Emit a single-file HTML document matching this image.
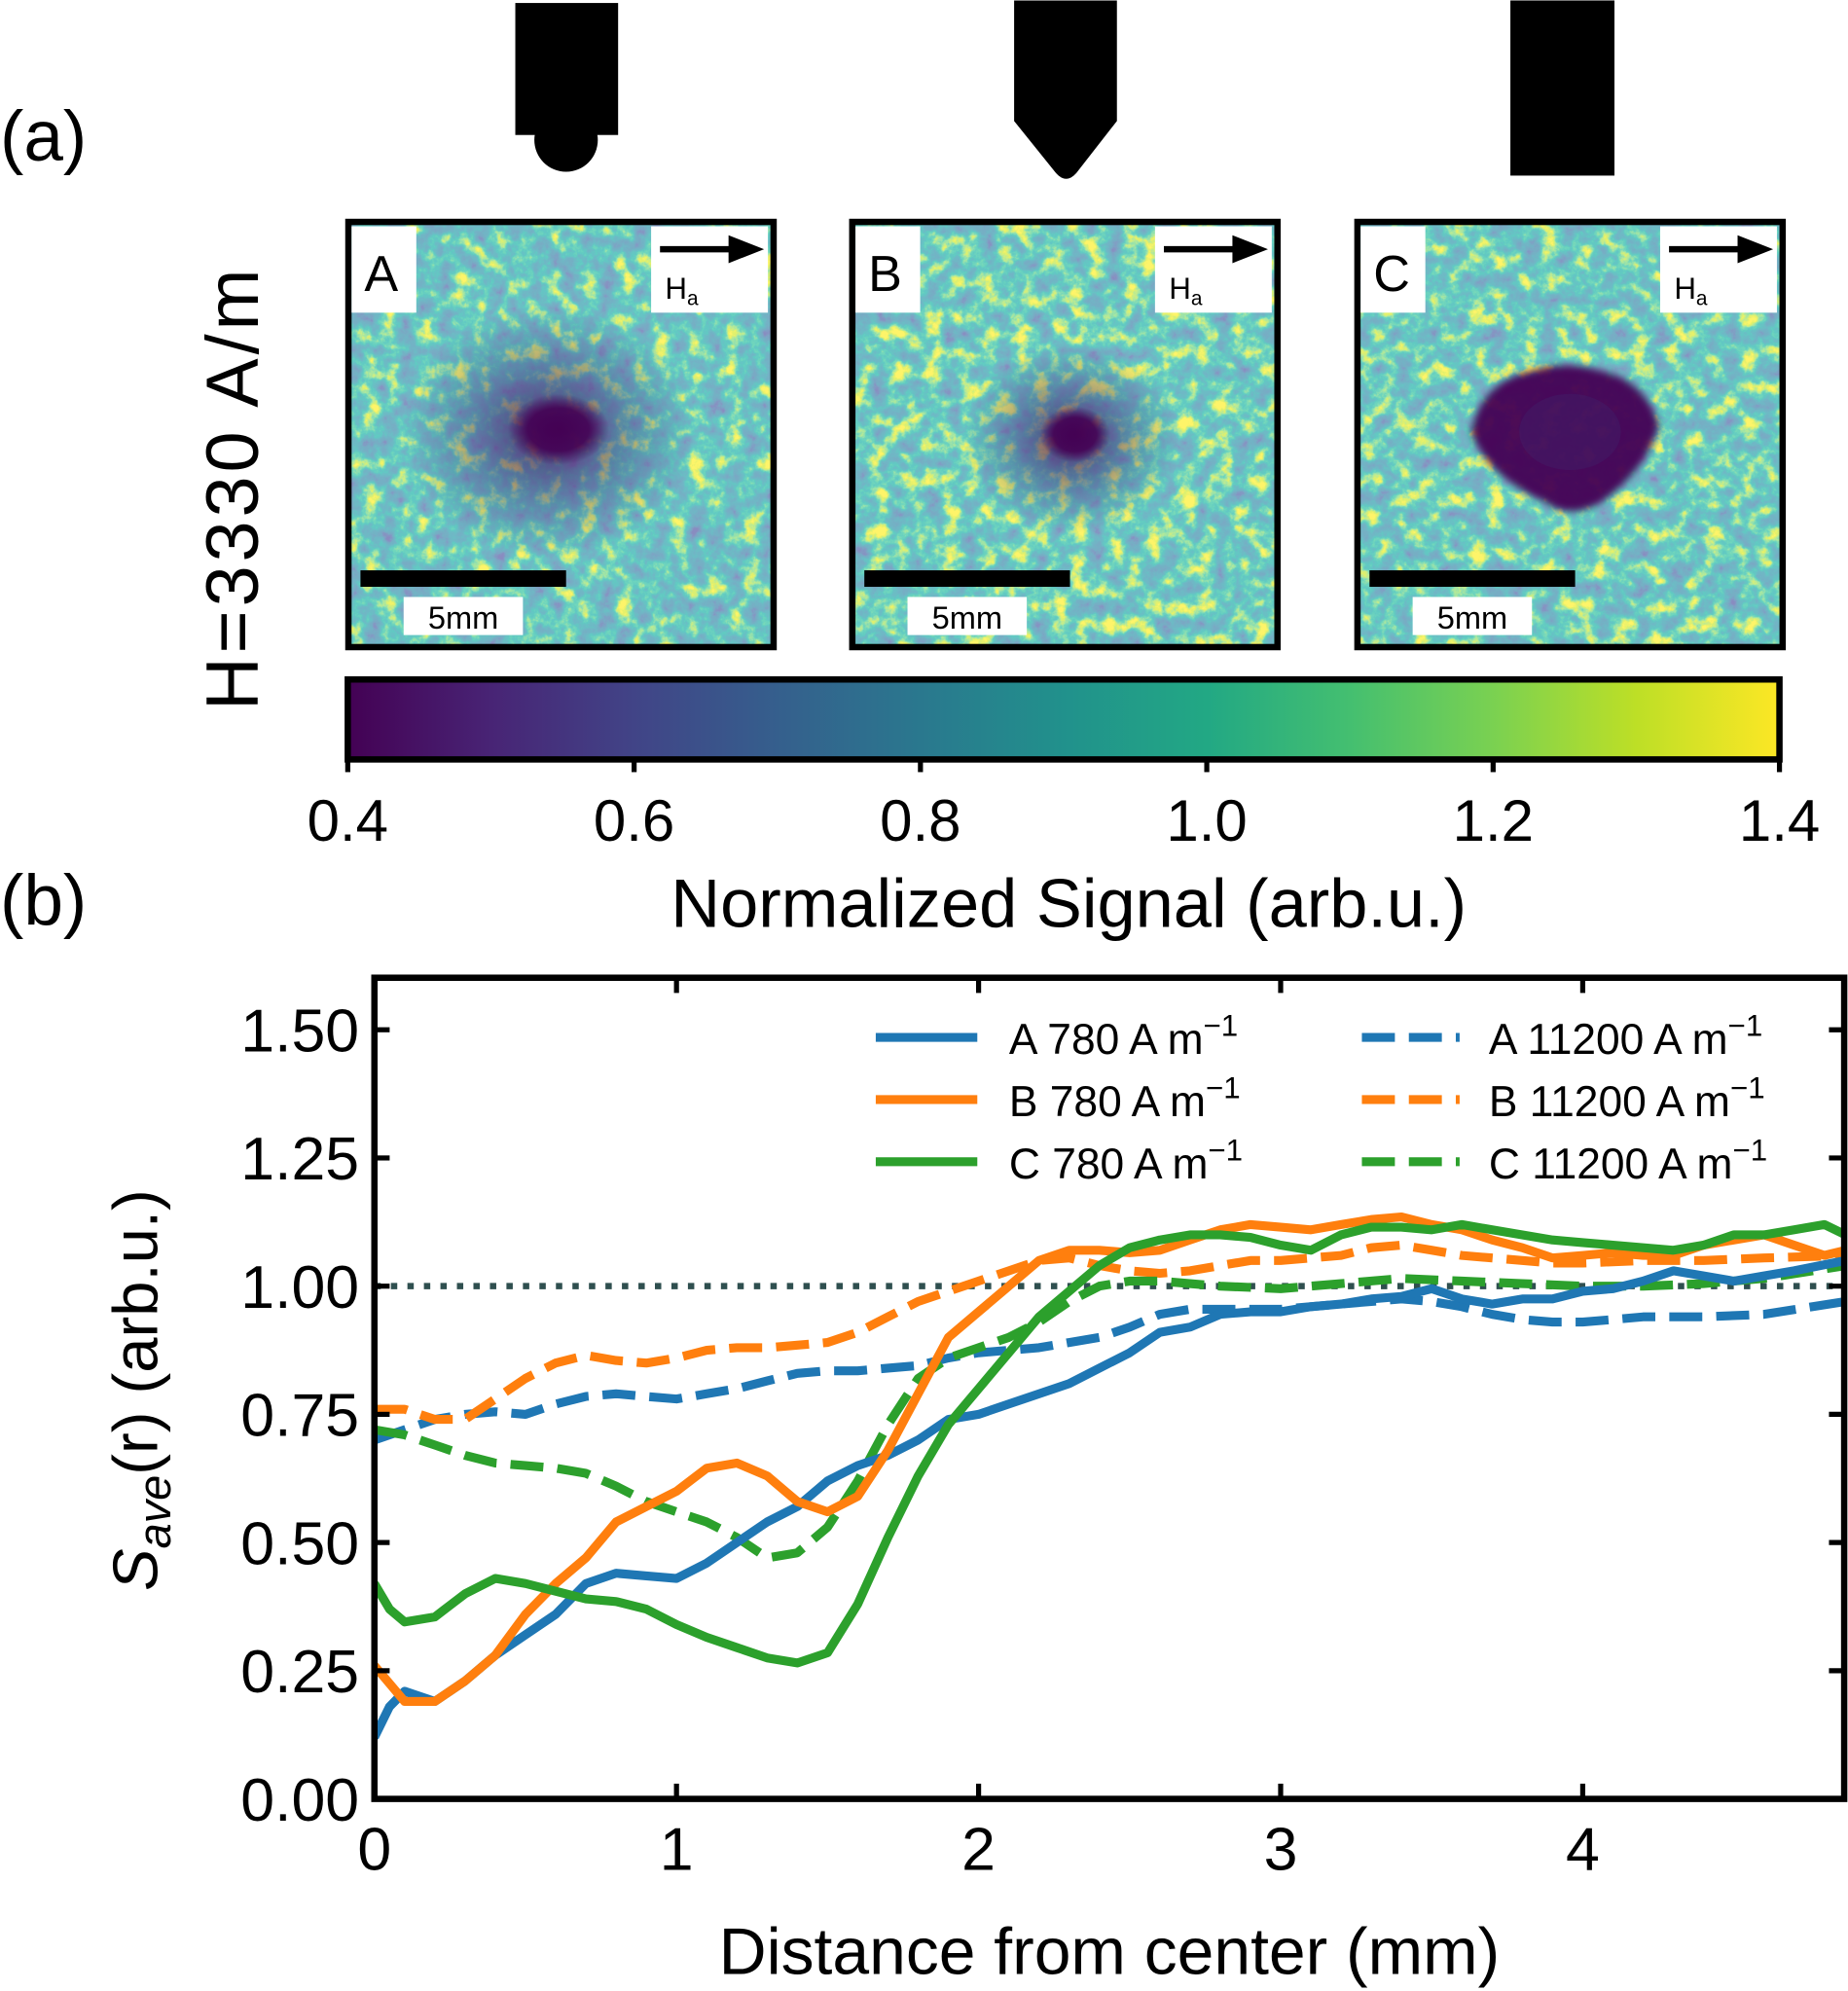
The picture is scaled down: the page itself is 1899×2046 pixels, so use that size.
<!DOCTYPE html>
<html><head><meta charset="utf-8"><style>
html,body{margin:0;padding:0;background:#fff;}
svg{display:block;font-family:"Liberation Sans",sans-serif;}
</style></head><body>
<svg id="s" width="1899" height="2046" viewBox="0 0 1456 1568" xmlns="http://www.w3.org/2000/svg">
<defs>
<linearGradient id="vir" x1="0" x2="1" y1="0" y2="0">
<stop offset="0" stop-color="#440154"/><stop offset="0.1" stop-color="#482475"/><stop offset="0.2" stop-color="#414487"/><stop offset="0.3" stop-color="#355f8d"/><stop offset="0.4" stop-color="#2a788e"/><stop offset="0.5" stop-color="#21918c"/><stop offset="0.6" stop-color="#22a884"/><stop offset="0.7" stop-color="#44bf70"/><stop offset="0.8" stop-color="#7ad151"/><stop offset="0.9" stop-color="#bddf26"/><stop offset="1" stop-color="#fde725"/>
</linearGradient>
<filter id="n1" x="0" y="0" width="1" height="1"><feTurbulence type="fractalNoise" baseFrequency="0.07" numOctaves="5" seed="3"/><feColorMatrix type="matrix" values="1.3 0 0 0 -0.17 1.3 0 0 0 -0.17 1.3 0 0 0 -0.17 0 0 0 0 1"/><feComponentTransfer>
<feFuncR type="table" tableValues="0.253 0.229 0.19 0.172 0.153 0.12 0.17 0.4 0.741 0.993 0.993"/>
<feFuncG type="table" tableValues="0.265 0.322 0.407 0.448 0.496 0.59 0.68 0.8 0.873 0.906 0.906"/>
<feFuncB type="table" tableValues="0.53 0.546 0.556 0.557 0.558 0.544 0.5 0.35 0.15 0.144 0.144"/>
<feFuncA type="table" tableValues="1 1"/></feComponentTransfer></filter>
<filter id="n2" x="0" y="0" width="1" height="1"><feTurbulence type="fractalNoise" baseFrequency="0.07" numOctaves="5" seed="11"/><feColorMatrix type="matrix" values="1.3 0 0 0 -0.12 1.3 0 0 0 -0.12 1.3 0 0 0 -0.12 0 0 0 0 1"/><feComponentTransfer>
<feFuncR type="table" tableValues="0.253 0.229 0.19 0.172 0.153 0.12 0.17 0.4 0.741 0.993 0.993"/>
<feFuncG type="table" tableValues="0.265 0.322 0.407 0.448 0.496 0.59 0.68 0.8 0.873 0.906 0.906"/>
<feFuncB type="table" tableValues="0.53 0.546 0.556 0.557 0.558 0.544 0.5 0.35 0.15 0.144 0.144"/>
<feFuncA type="table" tableValues="1 1"/></feComponentTransfer></filter>
<filter id="n3" x="0" y="0" width="1" height="1"><feTurbulence type="fractalNoise" baseFrequency="0.07" numOctaves="5" seed="27"/><feColorMatrix type="matrix" values="1.3 0 0 0 -0.14 1.3 0 0 0 -0.14 1.3 0 0 0 -0.14 0 0 0 0 1"/><feComponentTransfer>
<feFuncR type="table" tableValues="0.253 0.229 0.19 0.172 0.153 0.12 0.17 0.4 0.741 0.993 0.993"/>
<feFuncG type="table" tableValues="0.265 0.322 0.407 0.448 0.496 0.59 0.68 0.8 0.873 0.906 0.906"/>
<feFuncB type="table" tableValues="0.53 0.546 0.556 0.557 0.558 0.544 0.5 0.35 0.15 0.144 0.144"/>
<feFuncA type="table" tableValues="1 1"/></feComponentTransfer></filter>
<radialGradient id="halo"><stop offset="0" stop-color="#440154" stop-opacity="0.8"/><stop offset="0.5" stop-color="#46327e" stop-opacity="0.45"/><stop offset="1" stop-color="#3b528b" stop-opacity="0"/></radialGradient>
<radialGradient id="core"><stop offset="0" stop-color="#440154" stop-opacity="1"/><stop offset="0.6" stop-color="#440154" stop-opacity="0.9"/><stop offset="1" stop-color="#440154" stop-opacity="0"/></radialGradient>
<filter id="bl"><feGaussianBlur stdDeviation="3"/></filter>
</defs>

<text x="0" y="126" font-size="56">(a)</text>
<text x="0" y="728" font-size="56">(b)</text>

<rect x="406" y="2" width="81" height="104"/>
<circle cx="446" cy="110" r="25"/>
<path d="M799 0 H880 V95 L848 136 Q840 145 832 136 L799 95 Z"/>
<rect x="1190" y="0" width="82" height="138"/>

<g id="panels"></g>

<text transform="translate(203,384) rotate(-90)" font-size="58" text-anchor="middle" letter-spacing="3">H=3330 A/m</text>

<rect x="274" y="535" width="1128" height="63" fill="url(#vir)" stroke="#000" stroke-width="5"/>
<g id="cbt"></g>
<text x="842" y="730" font-size="54" text-anchor="middle">Normalized Signal (arb.u.)</text>

<g id="plot"></g>
</svg>
<script>
const NS="http://www.w3.org/2000/svg";
function el(p,t,a,txt){const e=document.createElementNS(NS,t);for(const k in a)e.setAttribute(k,a[k]);if(txt!==undefined)e.textContent=txt;p.appendChild(e);return e;}
const P=document.getElementById('panels');
const panels=[[272,'A','n1'],[669,'B','n2'],[1067,'C','n3']];
panels.forEach(([x0,L,f],i)=>{
  const g=el(P,'g',{});
  const cp=el(g,'clipPath',{id:'cp'+i});el(cp,'rect',{x:x0+2,y:174,width:335,height:335});
  const gi=el(g,'g',{'clip-path':'url(#cp'+i+')'});
  el(gi,'rect',{x:x0,y:172,width:340,height:340,filter:'url(#'+f+')'});
  if(i==0){el(gi,'ellipse',{cx:x0+160,cy:340,rx:115,ry:100,fill:'url(#halo)'});el(gi,'ellipse',{cx:x0+168,cy:338,rx:40,ry:28,fill:'url(#core)'});}
  if(i==1){el(gi,'ellipse',{cx:x0+175,cy:345,rx:85,ry:75,fill:'url(#halo)'});el(gi,'ellipse',{cx:x0+178,cy:342,rx:28,ry:22,fill:'url(#core)'});}
  if(i==2){el(gi,'path',{d:`M${x0+92} 340 Q${x0+100} 300 ${x0+140} 292 Q${x0+165} 283 ${x0+195} 292 Q${x0+230} 300 ${x0+240} 335 Q${x0+230} 370 ${x0+195} 395 Q${x0+170} 410 ${x0+150} 395 Q${x0+105} 375 ${x0+92} 340 Z`,fill:'#440154',opacity:'0.95',filter:'url(#bl)'});
    el(gi,'ellipse',{cx:x0+170,cy:340,rx:40,ry:30,fill:'#3e2a70',opacity:'0.3'});}
  el(g,'rect',{x:x0+2.5,y:174.5,width:335,height:335,fill:'none',stroke:'#000','stroke-width':5});
  el(g,'rect',{x:x0+5,y:178,width:51,height:68,fill:'#fff'});
  el(g,'text',{x:x0+15,y:229,'font-size':40},L);
  el(g,'rect',{x:x0+241,y:178,width:92,height:68,fill:'#fff'});
  el(g,'line',{x1:x0+248,y1:196,x2:x0+310,y2:196,stroke:'#000','stroke-width':5});
  el(g,'path',{d:`M${x0+302} 185 L${x0+330} 196 L${x0+302} 207 Z`});
  const t=el(g,'text',{x:x0+252,y:235,'font-size':24},'H');
  el(t,'tspan',{dy:5,'font-size':16},'a');
  el(g,'rect',{x:x0+12,y:449,width:162,height:13});
  el(g,'rect',{x:x0+46,y:470,width:94,height:30,fill:'#fff'});
  el(g,'text',{x:x0+93,y:495,'font-size':25,'text-anchor':'middle'},'5mm');
});
const C=document.getElementById('cbt');
[0.4,0.6,0.8,1.0,1.2,1.4].forEach((v,i)=>{const x=274+i*225.6;el(C,'line',{x1:x,y1:598,x2:x,y2:608,stroke:'#000','stroke-width':4});
 el(C,'text',{x:x,y:662,'font-size':46,'text-anchor':'middle'},v.toFixed(1));});
const G=document.getElementById('plot');
const X=v=>295+v*238, Y=v=>1417-v*404;
const cp=el(G,'clipPath',{id:'pc'});el(cp,'rect',{x:295,y:770,width:1158,height:647});
el(G,'line',{x1:295,y1:Y(1),x2:1453,y2:Y(1),stroke:'#2f4f4f','stroke-width':5,'stroke-dasharray':'5 8'});
const data={
aS:[[0,0.12],[0.05,0.18],[0.1,0.21],[0.2,0.19],[0.3,0.23],[0.4,0.28],[0.5,0.32],[0.6,0.36],[0.7,0.42],[0.8,0.44],[0.9,0.435],[1.0,0.43],[1.1,0.46],[1.2,0.5],[1.3,0.54],[1.4,0.57],[1.5,0.62],[1.6,0.65],[1.7,0.67],[1.8,0.7],[1.9,0.74],[2.0,0.75],[2.1,0.77],[2.2,0.79],[2.3,0.81],[2.4,0.84],[2.5,0.87],[2.6,0.91],[2.7,0.92],[2.8,0.945],[2.9,0.95],[3.0,0.95],[3.1,0.96],[3.2,0.965],[3.3,0.975],[3.4,0.98],[3.5,0.995],[3.6,0.975],[3.7,0.965],[3.8,0.975],[3.9,0.975],[4.0,0.99],[4.1,0.995],[4.2,1.01],[4.3,1.03],[4.4,1.02],[4.5,1.01],[4.6,1.02],[4.7,1.03],[4.87,1.05]],
bS:[[0,0.26],[0.1,0.19],[0.2,0.19],[0.3,0.23],[0.4,0.28],[0.5,0.36],[0.6,0.42],[0.7,0.47],[0.8,0.54],[0.9,0.57],[1.0,0.6],[1.1,0.645],[1.2,0.655],[1.3,0.63],[1.4,0.58],[1.5,0.56],[1.6,0.59],[1.7,0.68],[1.8,0.79],[1.9,0.9],[2.0,0.95],[2.1,1.0],[2.2,1.05],[2.3,1.07],[2.4,1.07],[2.5,1.065],[2.6,1.07],[2.7,1.09],[2.8,1.11],[2.9,1.12],[3.0,1.115],[3.1,1.11],[3.2,1.12],[3.3,1.13],[3.4,1.135],[3.5,1.12],[3.6,1.11],[3.7,1.09],[3.8,1.075],[3.9,1.055],[4.0,1.06],[4.1,1.065],[4.2,1.06],[4.3,1.06],[4.4,1.08],[4.5,1.09],[4.6,1.1],[4.7,1.08],[4.8,1.06],[4.87,1.07]],
cS:[[0,0.42],[0.05,0.37],[0.1,0.345],[0.2,0.355],[0.3,0.4],[0.4,0.43],[0.5,0.42],[0.6,0.405],[0.7,0.39],[0.8,0.385],[0.9,0.37],[1.0,0.34],[1.1,0.315],[1.2,0.295],[1.3,0.275],[1.4,0.265],[1.5,0.285],[1.6,0.38],[1.7,0.51],[1.8,0.63],[1.9,0.73],[2.0,0.8],[2.1,0.87],[2.2,0.94],[2.3,0.99],[2.4,1.04],[2.5,1.075],[2.6,1.09],[2.7,1.1],[2.8,1.1],[2.9,1.095],[3.0,1.08],[3.1,1.07],[3.2,1.1],[3.3,1.115],[3.4,1.115],[3.5,1.11],[3.6,1.12],[3.7,1.11],[3.8,1.1],[3.9,1.09],[4.0,1.085],[4.1,1.08],[4.2,1.075],[4.3,1.07],[4.4,1.08],[4.5,1.1],[4.6,1.1],[4.7,1.11],[4.8,1.12],[4.87,1.1]],
aD:[[0,0.7],[0.1,0.72],[0.2,0.74],[0.3,0.75],[0.4,0.755],[0.5,0.75],[0.6,0.77],[0.7,0.785],[0.8,0.79],[0.9,0.785],[1.0,0.78],[1.1,0.79],[1.2,0.8],[1.3,0.815],[1.4,0.83],[1.5,0.835],[1.6,0.835],[1.7,0.84],[1.8,0.845],[1.9,0.86],[2.0,0.87],[2.1,0.875],[2.2,0.88],[2.3,0.89],[2.4,0.9],[2.5,0.92],[2.6,0.945],[2.7,0.955],[2.8,0.955],[3.0,0.955],[3.2,0.965],[3.4,0.975],[3.5,0.97],[3.6,0.96],[3.7,0.945],[3.8,0.935],[3.9,0.93],[4.0,0.93],[4.1,0.935],[4.2,0.94],[4.4,0.94],[4.6,0.945],[4.87,0.97]],
bD:[[0,0.76],[0.1,0.76],[0.2,0.74],[0.3,0.74],[0.4,0.78],[0.5,0.82],[0.6,0.85],[0.7,0.865],[0.8,0.855],[0.9,0.85],[1.0,0.86],[1.1,0.875],[1.2,0.88],[1.3,0.88],[1.4,0.885],[1.5,0.89],[1.6,0.91],[1.7,0.94],[1.8,0.97],[1.9,0.99],[2.0,1.01],[2.1,1.03],[2.2,1.05],[2.3,1.055],[2.4,1.04],[2.5,1.03],[2.6,1.025],[2.7,1.03],[2.8,1.04],[2.9,1.05],[3.0,1.05],[3.1,1.055],[3.2,1.06],[3.3,1.075],[3.4,1.08],[3.5,1.07],[3.6,1.06],[3.7,1.055],[3.8,1.05],[3.9,1.045],[4.0,1.045],[4.2,1.05],[4.4,1.05],[4.6,1.055],[4.87,1.06]],
cD:[[0,0.72],[0.1,0.71],[0.2,0.69],[0.3,0.67],[0.4,0.655],[0.5,0.65],[0.6,0.645],[0.7,0.635],[0.8,0.61],[0.9,0.58],[1.0,0.56],[1.1,0.54],[1.2,0.51],[1.3,0.47],[1.4,0.48],[1.5,0.53],[1.6,0.62],[1.7,0.73],[1.8,0.82],[1.9,0.86],[2.0,0.88],[2.1,0.9],[2.2,0.93],[2.3,0.97],[2.4,1.0],[2.5,1.01],[2.6,1.01],[2.8,1.0],[3.0,0.995],[3.2,1.005],[3.4,1.015],[3.6,1.01],[3.8,1.005],[4.0,1.0],[4.2,1.0],[4.4,1.005],[4.6,1.015],[4.87,1.04]]};
const cols={a:'#1f77b4',b:'#ff7f0e',c:'#2ca02c'};
const gl=el(G,'g',{'clip-path':'url(#pc)',fill:'none','stroke-width':7,'stroke-linejoin':'round'});
['aD','bD','cD','aS','bS','cS'].forEach(k=>{
  const d='M'+data[k].map(p=>X(p[0]).toFixed(1)+' '+Y(p[1]).toFixed(1)).join(' L');
  const a={d:d,stroke:cols[k[0]]};if(k[1]=='D')a['stroke-dasharray']='26 11';
  el(gl,'path',a);
});
el(G,'rect',{x:295,y:770,width:1158,height:647,fill:'none',stroke:'#000','stroke-width':5});
[0,0.25,0.5,0.75,1.0,1.25,1.5].forEach(v=>{const y=Y(v);
 el(G,'line',{x1:295,y1:y,x2:307,y2:y,stroke:'#000','stroke-width':4});
 el(G,'line',{x1:1441,y1:y,x2:1453,y2:y,stroke:'#000','stroke-width':4});
 el(G,'text',{x:283,y:y+17,'font-size':48,'text-anchor':'end'},v.toFixed(2));});
[0,1,2,3,4].forEach(v=>{const x=X(v);
 el(G,'line',{x1:x,y1:1417,x2:x,y2:1405,stroke:'#000','stroke-width':4});
 el(G,'line',{x1:x,y1:770,x2:x,y2:782,stroke:'#000','stroke-width':4});
 el(G,'text',{x:x,y:1473,'font-size':48,'text-anchor':'middle'},String(v));});
el(G,'text',{x:874,y:1555,'font-size':52,'text-anchor':'middle'},'Distance from center (mm)');
const yl=el(G,'text',{transform:'translate(124,1095) rotate(-90)','font-size':50,'text-anchor':'middle'});
el(yl,'tspan',{'font-style':'italic'},'S');el(yl,'tspan',{'font-style':'italic',dy:10,'font-size':36},'ave');el(yl,'tspan',{dy:-10},'(r) (arb.u.)');
const leg=[['a','A',817],['b','B',866],['c','C',915]];
leg.forEach(([c,L,y])=>{
 el(G,'line',{x1:690,y1:y,x2:770,y2:y,stroke:cols[c],'stroke-width':7});
 let t=el(G,'text',{x:795,y:y+13,'font-size':34},L+' 780 A m');el(t,'tspan',{dy:-14,'font-size':24},'−1');
 el(G,'line',{x1:1073,y1:y,x2:1150,y2:y,stroke:cols[c],'stroke-width':7,'stroke-dasharray':'26 11'});
 t=el(G,'text',{x:1173,y:y+13,'font-size':34},L+' 11200 A m');el(t,'tspan',{dy:-14,'font-size':24},'−1');
});
</script>
</body></html>
